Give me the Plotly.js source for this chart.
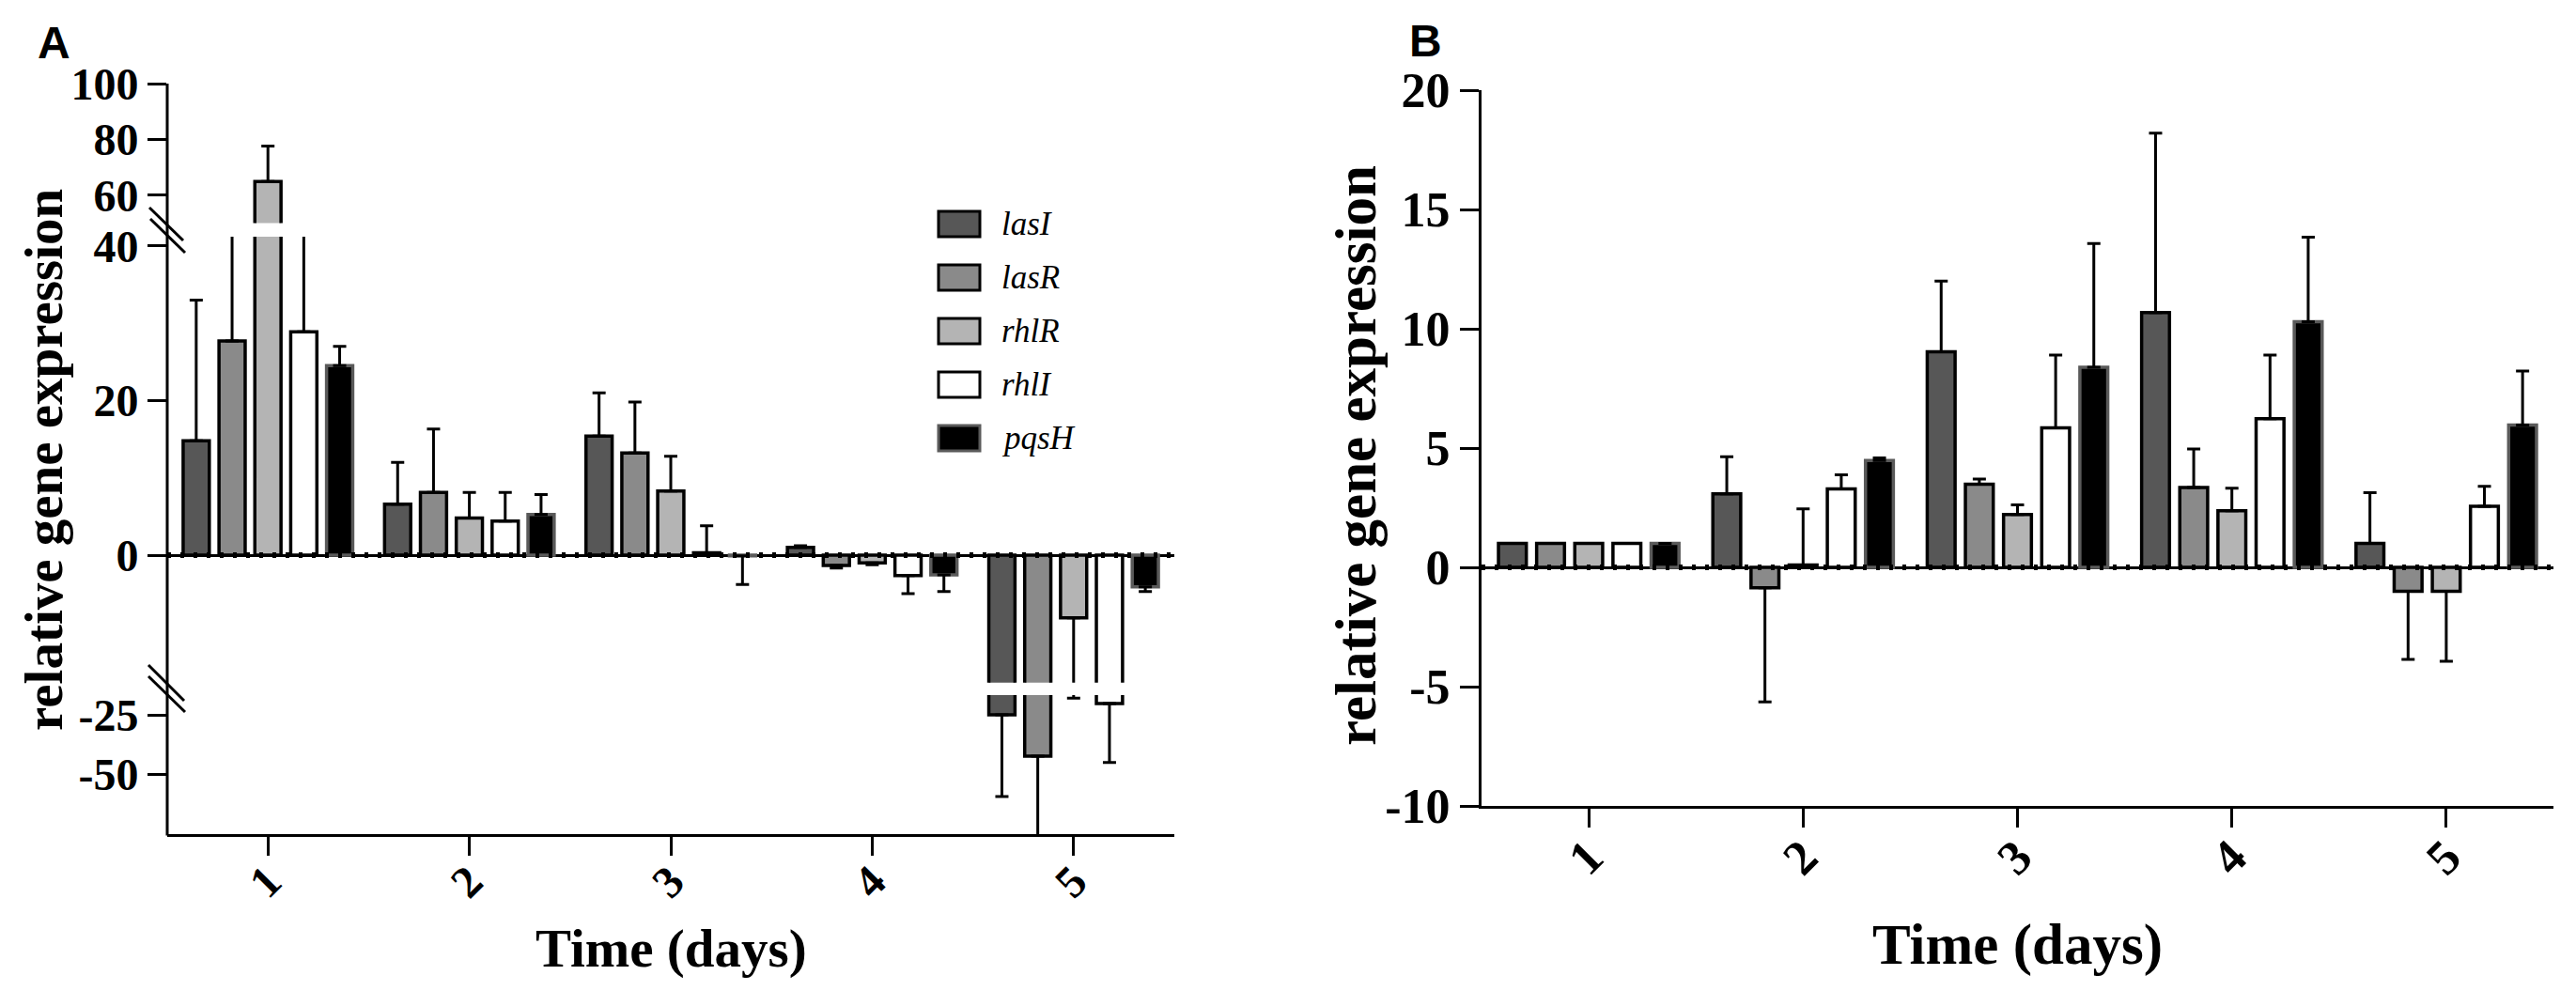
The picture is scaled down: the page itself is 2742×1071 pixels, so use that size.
<!DOCTYPE html>
<html>
<head>
<meta charset="utf-8">
<script src="https://cdn.plot.ly/plotly-3.0.1.min.js"></script>
<style>
  html, body { margin: 0; padding: 0; background: #fff; }
  #chart { width: 2742px; height: 1071px; }
</style>
</head>
<body>
<div id="chart"></div>
<script>
// ----------------------------- data ------------------------------------------
var days = ["1", "2", "3", "4", "5"];
var genes = ["lasI", "lasR", "rhlR", "rhlI", "pqsH"];

// panel A (broken y axis)
var aLasI = [14.8, 6.6, 15.4, 1.0, -25.0];
var aLasR = [27.7, 8.1, 13.2, -1.34, -42.4];
var aRhlR = [64.9, 4.8, 8.3, -1.0, -8.1];
var aRhlI = [28.9, 4.4, 0.3, -2.63, -20.3];
var aPqsH = [24.5, 5.25, -0.1, -2.55, -4.1];
var aLasIErr = [18.2, 5.4, 5.6, 0.2, 34.4];
var aLasRErr = [18.0, 8.2, 6.6, 0.32, 40.0];
var aRhlRErr = [12.7, 3.3, 4.5, 0.25, 9.9];
var aRhlIErr = [17.0, 3.7, 3.5, 2.35, 24.8];
var aPqsHErr = [2.5, 2.6, 3.7, 2.15, 0.6];

// panel B
var bLasI = [1.0, 3.08, 9.04, 10.68, 1.0];
var bLasR = [1.0, -0.86, 3.48, 3.35, -1.0];
var bRhlR = [1.0, 0.1, 2.21, 2.37, -1.0];
var bRhlI = [1.0, 3.29, 5.85, 6.23, 2.56];
var bPqsH = [1.0, 4.48, 8.39, 10.3, 5.96];
var bLasIErr = [0, 1.56, 2.96, 7.52, 2.13];
var bLasRErr = [0, 4.78, 0.22, 1.61, 2.86];
var bRhlRErr = [0, 2.35, 0.41, 0.95, 2.94];
var bRhlIErr = [0, 0.59, 3.05, 2.67, 0.84];
var bPqsHErr = [0, 0.11, 5.18, 3.54, 2.27];

// axis ticks
var aUpperTicks = [60, 80, 100];
var aMiddleTicks = [0, 20, 40];
var aLowerTicks = [-25, -50];
var bTicks = [-10, -5, 0, 5, 10, 15, 20];
// =============================================================================


// ----------------------------- styling ---------------------------------------
var W = 2742, H = 1071;
var fills = ["#575757", "#8a8a8a", "#b4b4b4", "#ffffff", "#000000"];
var outlines = ["#000000", "#000000", "#000000", "#000000", "#5a5a5a"];
var serif = "Liberation Serif, Times New Roman, serif";
var sans = "Liberation Sans, Arial, sans-serif";

function px(p) { return p / W; }
function py(p) { return 1 - p / H; }
function boldSerif(size) {
  return { family: serif, size: size, color: "#000", weight: "bold" };
}

var aSeries = [aLasI, aLasR, aRhlR, aRhlI, aPqsH];
var aErrors = [aLasIErr, aLasRErr, aRhlRErr, aRhlIErr, aPqsHErr];
var bSeries = [bLasI, bLasR, bRhlR, bRhlI, bPqsH];
var bErrors = [bLasIErr, bLasRErr, bRhlRErr, bRhlIErr, bPqsHErr];
// =============================================================================


// --------------------- one-sided error bars ----------------------------------
function errUp(vals, errs) {
  return vals.map(function (v, i) { return v >= 0 ? errs[i] : 0; });
}
function errDown(vals, errs) {
  return vals.map(function (v, i) { return v < 0 ? errs[i] : 0; });
}

function barTrace(vals, errs, k, xaxis, yaxis) {
  return {
    type: "bar",
    x: days,
    y: vals,
    name: genes[k],
    xaxis: xaxis,
    yaxis: yaxis,
    showlegend: false,
    hoverinfo: "name+y",
    marker: {
      color: fills[k],
      line: { color: outlines[k], width: 3.5 }
    },
    error_y: {
      type: "data",
      symmetric: false,
      array: errUp(vals, errs),
      arrayminus: errDown(vals, errs),
      color: "#000000",
      thickness: 3,
      width: 7
    }
  };
}

var data = [];
// panel A is drawn three times, once per axis segment, and clipped by each
["y2", "y", "y3"].forEach(function (ya) {
  for (var k = 0; k < genes.length; k++) {
    data.push(barTrace(aSeries[k], aErrors[k], k, "x", ya));
  }
});
for (var k = 0; k < genes.length; k++) {
  data.push(barTrace(bSeries[k], bErrors[k], k, "x2", "y4"));
}
// =============================================================================


// ----------------------------- axes ------------------------------------------
function xAxis(domain, anchor, size) {
  return {
    domain: domain,
    anchor: anchor,
    type: "category",
    range: [-0.5, 4.5],
    showline: true,
    linewidth: 3,
    linecolor: "#000",
    ticks: "outside",
    ticklen: 20,
    tickwidth: 3,
    tickcolor: "#000",
    tickangle: -45,
    ticklabelstandoff: -20,
    tickfont: boldSerif(size),
    showgrid: false,
    zeroline: false,
    fixedrange: true
  };
}

function yAxis(domain, anchor, range, ticks, size, showline, zeroline) {
  return {
    domain: domain,
    anchor: anchor,
    range: range,
    tickmode: "array",
    tickvals: ticks,
    ticktext: ticks.map(String),
    showline: showline,
    linewidth: 3,
    linecolor: "#000",
    ticks: "outside",
    ticklen: 20,
    tickwidth: 3,
    tickcolor: "#000",
    tickfont: boldSerif(size),
    showgrid: false,
    zeroline: zeroline,
    zerolinecolor: "#000",
    zerolinewidth: 3,
    fixedrange: true
  };
}

var aX = [px(178), px(1250)];
var bX = [px(1577), px(2718)];
// =============================================================================


// ---------------------- shapes: axis line, breaks, legend --------------------
var shapes = [];
function line(x0, y0, x1, y1, w, color, dash) {
  return {
    type: "line", xref: "paper", yref: "paper",
    x0: px(x0), y0: py(y0), x1: px(x1), y1: py(y1),
    line: { color: color || "#000", width: w, dash: dash || "solid" }
  };
}
// continuous left axis of panel A
shapes.push(line(178, 889.5, 178, 89, 3));
// break marks
shapes.push(line(159, 221, 195, 256, 3));
shapes.push(line(160, 233, 197, 269, 3));
shapes.push(line(158, 708, 196, 746, 3));
shapes.push(line(158, 720, 197, 758, 3));
// dotted baselines
shapes.push({
  type: "line", xref: "paper", yref: "y", x0: aX[0], x1: aX[1], y0: 0, y1: 0,
  line: { color: "#000", width: 6, dash: "4px,10px" }
});
shapes.push({
  type: "line", xref: "paper", yref: "y4", x0: bX[0], x1: bX[1], y0: 0, y1: 0,
  line: { color: "#000", width: 6, dash: "4px,10px" }
});

var annotations = [];
function label(text, x, y, font, angle) {
  annotations.push({
    text: text, xref: "paper", yref: "paper", x: px(x), y: py(y),
    xanchor: "center", yanchor: "middle", showarrow: false,
    textangle: angle || 0, font: font
  });
}

// legend of panel A
var legTop = [225, 282, 339, 396, 453];
for (var k = 0; k < genes.length; k++) {
  shapes.push({
    type: "rect", xref: "paper", yref: "paper",
    x0: px(999), x1: px(1043), y0: py(legTop[k] + 27), y1: py(legTop[k]),
    fillcolor: fills[k],
    line: { color: outlines[k], width: 3 }
  });
  annotations.push({
    text: genes[k], xref: "paper", yref: "paper",
    x: px(1064), y: py(legTop[k] + 13.5),
    xanchor: "left", yanchor: "middle", showarrow: false,
    font: { family: serif, size: 35, color: "#000", style: "italic" }
  });
}

// titles and panel letters
label("relative gene expression", 47, 490, boldSerif(57), -90);
label("Time (days)", 714, 1010, boldSerif(57));
label("relative gene expression", 1444, 485, boldSerif(61), -90);
label("Time (days)", 2147, 1006, boldSerif(61));
label("A", 58, 46, { family: sans, size: 48, color: "#000", weight: "bold" });
label("B", 1517, 44, { family: sans, size: 48, color: "#000", weight: "bold" });
// =============================================================================


// ----------------------------- layout ----------------------------------------
var layout = {
  width: W,
  height: H,
  margin: { l: 0, r: 0, t: 0, b: 0, pad: 0 },
  paper_bgcolor: "#fff",
  plot_bgcolor: "rgba(0,0,0,0)",
  barmode: "group",
  bargap: 0.11,
  bargroupgap: 0.27,
  showlegend: false,
  xaxis: xAxis(aX, "y3", 48),
  yaxis: yAxis([py(726.8), py(251.9)], "x", [-16.5, 41.2], aMiddleTicks, 48, false, true),
  yaxis2: yAxis([py(237.4), py(89)], "x", [50, 100], aUpperTicks, 48, false, false),
  yaxis3: yAxis([py(888), py(740)], "x", [-75.2, -16.7], aLowerTicks, 48, false, false),
  xaxis2: xAxis(bX, "y4", 52),
  yaxis4: yAxis([py(858), py(96)], "x2", [-10, 20], bTicks, 52, true, true),
  shapes: shapes,
  annotations: annotations
};

Plotly.newPlot("chart", data, layout, { displayModeBar: false, staticPlot: true });
// =============================================================================
</script>
</body>
</html>
